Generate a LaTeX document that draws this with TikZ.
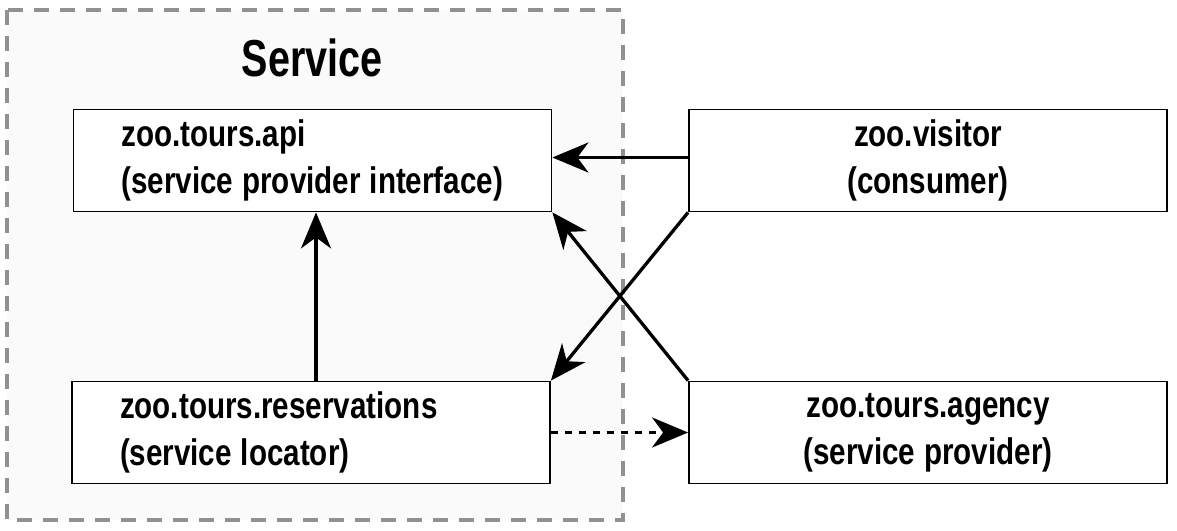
\documentclass[tikz,border=0pt]{standalone}
\usepackage{fontspec}
\newfontfamily\cf{Liberation Sans}[FakeStretch=0.8]
\newfontfamily\cft{Liberation Sans}[FakeStretch=0.76]
\newcommand\tsp{\spaceskip=9pt\relax}
\usetikzlibrary{arrows.meta,calc}
\begin{document}
\begin{tikzpicture}[x=1pt,y=-1pt,
  box/.style={draw=black,line width=1.8pt,fill=white,minimum width=478pt,minimum height=102pt,inner sep=0pt,
    font=\cf\bfseries\fontsize{37}{47}\selectfont},
  lbox/.style={box,text width=382pt,align=left},
  cbox/.style={box,text width=430pt,align=center},
  arr/.style={line width=3.3pt,-{Stealth[length=36pt,width=30pt,inset=11pt]}},
]
\useasboundingbox (0,0) rectangle (1177,530);
\fill[white] (0,0) rectangle (1177,530);
\draw[draw=black!43,fill=black!2,line width=3.3pt,dash pattern=on 15pt off 11pt] (7,10) rectangle (623,520);
\node[font=\cft\bfseries\fontsize{52}{56}\selectfont] (title) at (312,58) {Service};
\node[lbox] (api) at (312.5,160.5) {\mbox{zoo.tours.api}\\\mbox{\tsp(service provider interface)}};
\node[cbox] (visitor) at (928,160.5) {zoo.visitor\\(consumer)};
\node[lbox] (res) at (311,432.5) {\mbox{zoo.tours.reservations}\\\mbox{\tsp(service locator)}};
\node[cbox] (agency) at (928,432.5) {zoo.tours.agency\\\mbox{\tsp(service provider)}};
\draw[arr] ($(visitor.west)+(0,-3)$) -- ($(api.east)+(0,-3)$);
\draw[arr] (visitor.south west) -- (res.north east);
\draw[arr] (agency.north west) -- (api.south east);
\draw[arr] (res.north -| 316,0) -- (api.south -| 316,0);
\draw[arr,dash pattern=on 7pt off 7pt] (res.east) -- (agency.west);
\end{tikzpicture}
\end{document}
